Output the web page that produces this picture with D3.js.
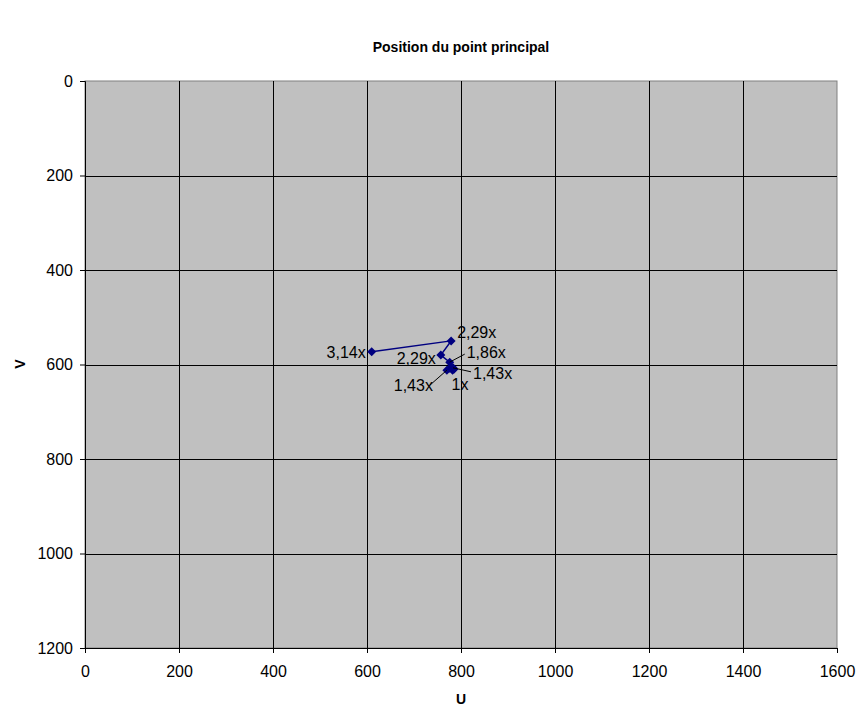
<!DOCTYPE html>
<html>
<head>
<meta charset="utf-8">
<script src="https://cdn.jsdelivr.net/npm/d3@7"></script>
<style>
  body { margin: 0; background: #fff; }
  text { font-family: Arial, "Liberation Sans", sans-serif; }
</style>
</head>
<body>
<div id="chart"></div>
<script>
// dimensions de la page
const width = 860;
const height = 709;
const margin = { top: 81, right: 23, bottom: 61, left: 85 };

// données (U, V, étiquette)
const uValues = [610, 779, 757, 776, 783, 770, 776, 785, 782];
const vValues = [573, 550, 580, 595, 607, 612, 608, 610, 612];
const labels = ["3,14x", "2,29x", "2,29x", "1,86x", "1,43x", "1,43x", "", "", "1x"];
const xTicks = [0, 200, 400, 600, 800, 1000, 1200, 1400, 1600];
const yTicks = [0, 200, 400, 600, 800, 1000, 1200];

// placement des étiquettes (décalage en px, fin du trait de rappel)
const labelOffsets = [
  { dx: -6, dy: 6, anchor: "end" },
  { dx: 6, dy: -3, anchor: "start" },
  { dx: -5, dy: 9, anchor: "end" },
  { dx: 17, dy: -4, anchor: "start", lx: 15, ly: -8 },
  { dx: 20, dy: 11, anchor: "start", lx: 18, ly: 4 },
  { dx: -14, dy: 21, anchor: "end", lx: -17, ly: 15 },
  null, null,
  { dx: -1, dy: 20, anchor: "start" }
];

const points = uValues.map((u, i) => ({ u, v: vValues[i], label: labels[i], off: labelOffsets[i] }));

const svg = d3.select("#chart")
  .append("svg")
  .attr("width", width)
  .attr("height", height);

const x = d3.scaleLinear().domain([0, 1600]).range([margin.left, width - margin.right]);
const y = d3.scaleLinear().domain([0, 1200]).range([margin.top, height - margin.bottom]);

// fond gris de la zone de tracé
svg.append("rect")
  .attr("x", x(0))
  .attr("y", y(0))
  .attr("width", x(1600) - x(0))
  .attr("height", y(1200) - y(0))
  .attr("fill", "#c0c0c0")
  .attr("stroke", "#808080")
  .attr("stroke-width", 1);

// quadrillage
svg.append("g")
  .selectAll("line")
  .data(xTicks.slice(1, -1))
  .enter()
  .append("line")
  .attr("x1", d => Math.round(x(d)) + 0.5)
  .attr("x2", d => Math.round(x(d)) + 0.5)
  .attr("y1", y(0))
  .attr("y2", y(1200))
  .attr("stroke", "#000")
  .attr("stroke-width", 1);

svg.append("g")
  .selectAll("line")
  .data(yTicks.slice(1, -1))
  .enter()
  .append("line")
  .attr("x1", x(0))
  .attr("x2", x(1600))
  .attr("y1", d => Math.round(y(d)) + 0.5)
  .attr("y2", d => Math.round(y(d)) + 0.5)
  .attr("stroke", "#000")
  .attr("stroke-width", 1);

// axes
const xAxis = d3.axisBottom(x).tickValues(xTicks).tickSize(5).tickPadding(13).tickFormat(d3.format("d"));
const yAxis = d3.axisLeft(y).tickValues(yTicks).tickSize(5).tickPadding(7).tickFormat(d3.format("d"));

const gx = svg.append("g")
  .attr("transform", `translate(0, ${y(1200)})`)
  .call(xAxis);
const gy = svg.append("g")
  .attr("transform", `translate(${x(0)}, 0)`)
  .call(yAxis);

[gx, gy].forEach(g => {
  g.select(".domain").attr("stroke", "#000");
  g.selectAll(".tick line").attr("stroke", "#000");
  g.selectAll(".tick text")
    .attr("fill", "#000")
    .style("font-size", "16px")
    .style("font-family", "Arial, 'Liberation Sans', sans-serif");
});

// série
const line = d3.line().x(d => x(d.u)).y(d => y(d.v));
svg.append("path")
  .datum(points)
  .attr("d", line)
  .attr("fill", "none")
  .attr("stroke", "#000080")
  .attr("stroke-width", 1.5);

svg.append("g")
  .selectAll("path")
  .data(points)
  .enter()
  .append("path")
  .attr("transform", d => `translate(${x(d.u)}, ${y(d.v)})`)
  .attr("d", "M0,-4.5L4.5,0L0,4.5L-4.5,0Z")
  .attr("fill", "#000080");

// étiquettes de données
const lab = svg.append("g")
  .selectAll("g")
  .data(points.filter(d => d.label))
  .enter()
  .append("g");

lab.filter(d => d.off.lx !== undefined)
  .append("line")
  .attr("x1", d => x(d.u))
  .attr("y1", d => y(d.v))
  .attr("x2", d => x(d.u) + d.off.lx)
  .attr("y2", d => y(d.v) + d.off.ly)
  .attr("stroke", "#000")
  .attr("stroke-width", 1);

lab.append("text")
  .attr("x", d => x(d.u) + d.off.dx)
  .attr("y", d => y(d.v) + d.off.dy)
  .attr("text-anchor", d => d.off.anchor)
  .style("font-size", "16px")
  .attr("fill", "#000")
  .text(d => d.label);

// titres
svg.append("text")
  .attr("x", 461)
  .attr("y", 52)
  .attr("text-anchor", "middle")
  .style("font-size", "14px")
  .style("font-weight", "bold")
  .text("Position du point principal");

svg.append("text")
  .attr("x", 461)
  .attr("y", 704)
  .attr("text-anchor", "middle")
  .style("font-size", "14px")
  .style("font-weight", "bold")
  .text("U");

svg.append("text")
  .attr("transform", "translate(25, 364) rotate(-90)")
  .attr("text-anchor", "middle")
  .style("font-size", "14px")
  .style("font-weight", "bold")
  .text("V");
</script>
</body>
</html>
